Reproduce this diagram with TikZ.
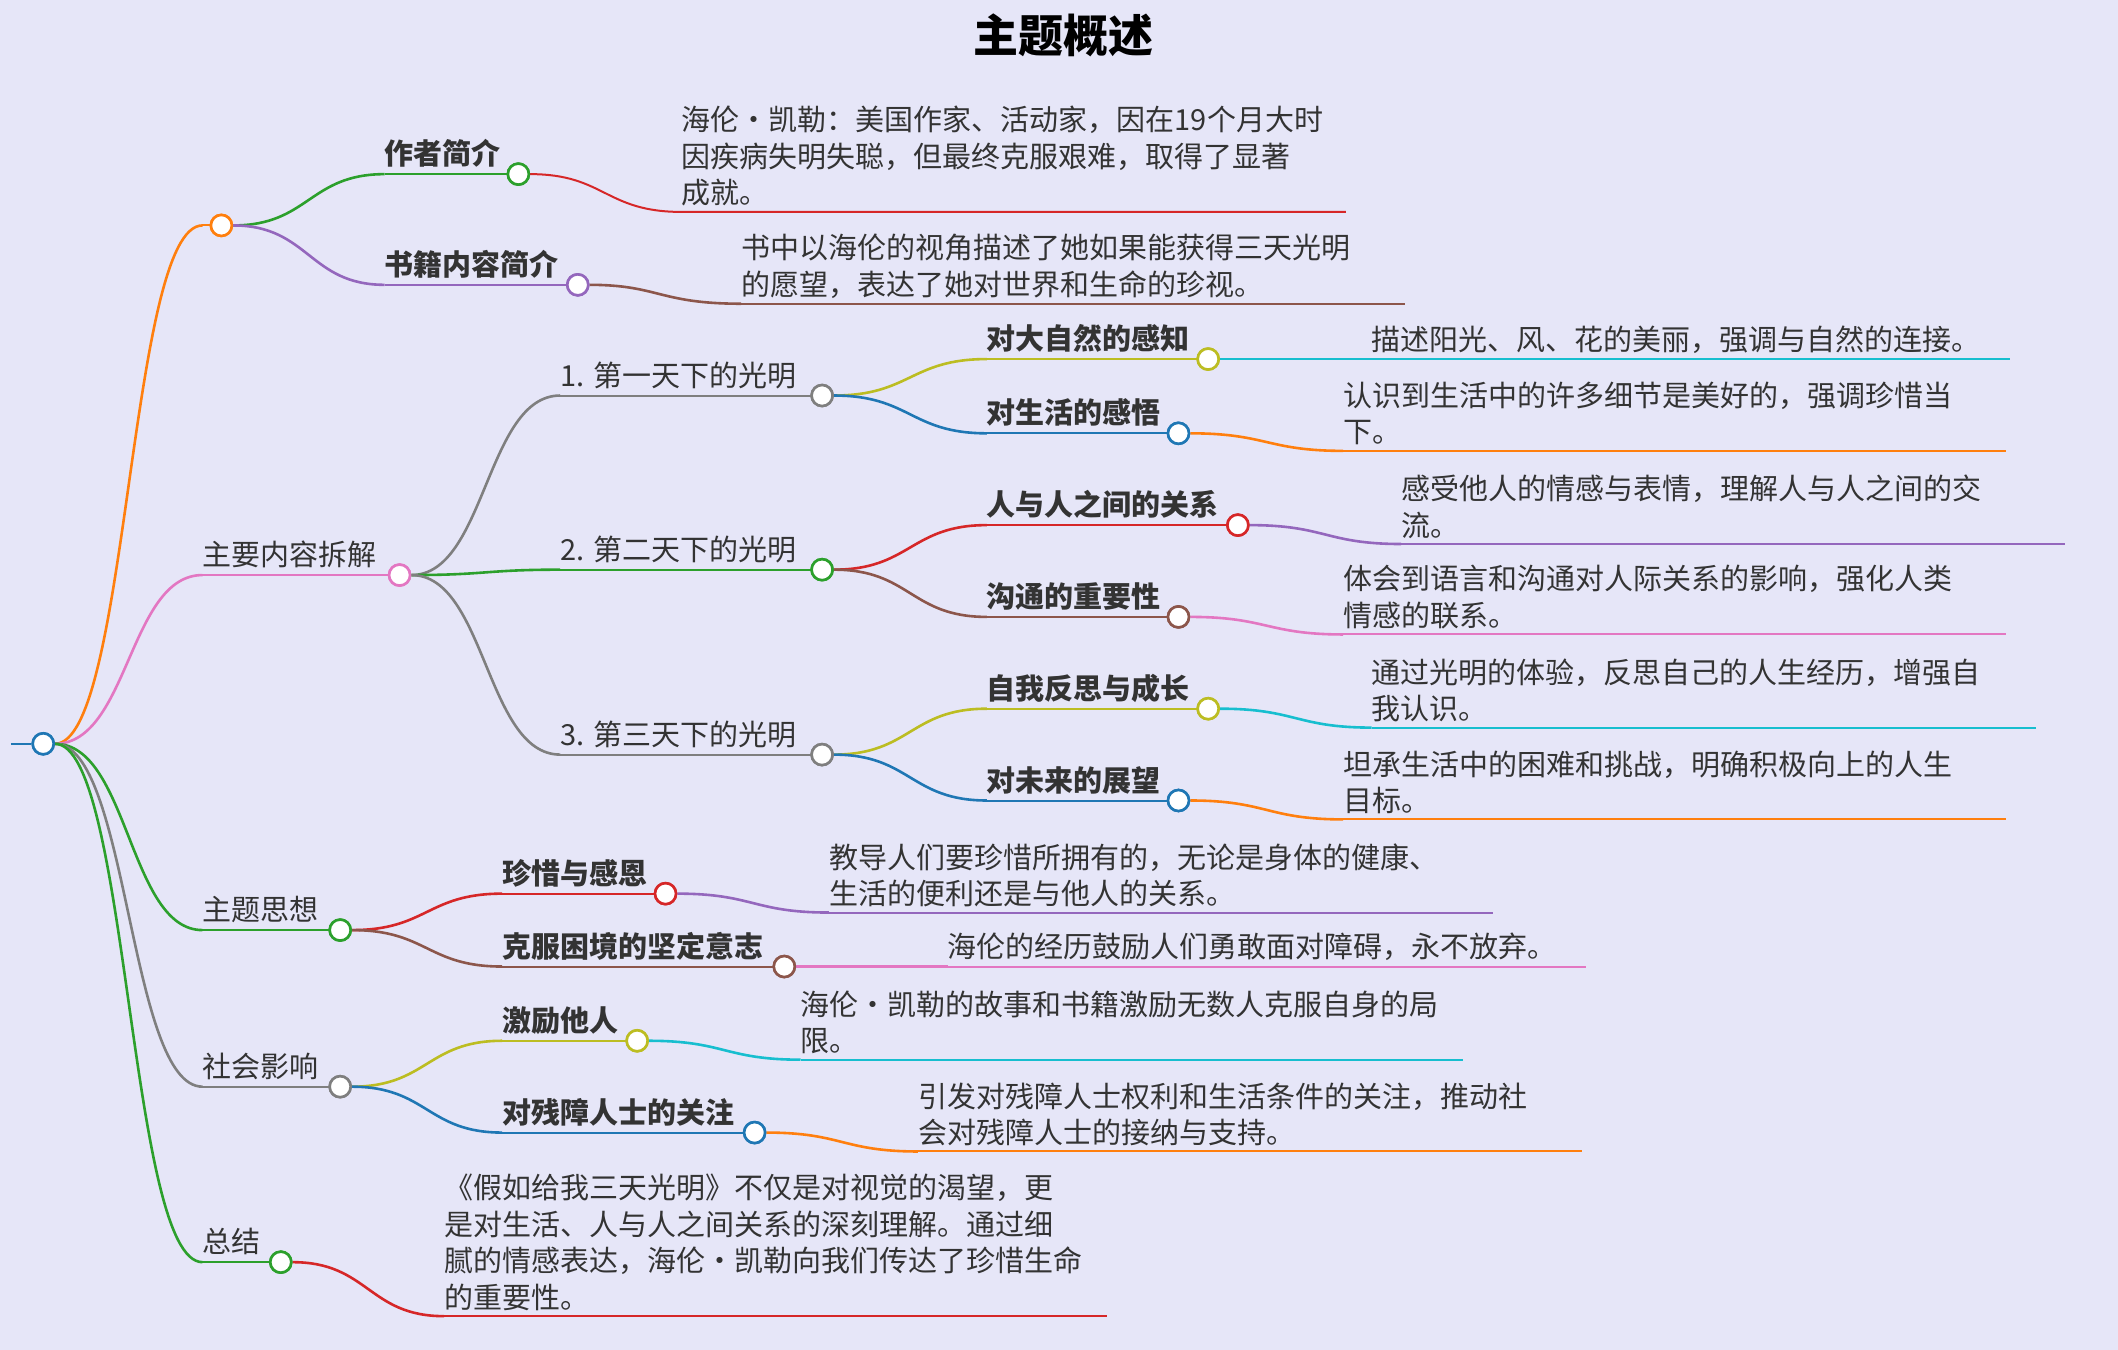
\documentclass[tikz,border=0pt]{standalone}
\usepackage{fontspec}
\setmainfont{Noto Sans CJK SC}
\usetikzlibrary{calc}
\definecolor{bg}{HTML}{E6E6F8}
\definecolor{cgreen}{HTML}{2CA02C}
\definecolor{corange}{HTML}{FF7F0E}
\definecolor{cpurple}{HTML}{9467BD}
\definecolor{cred}{HTML}{D62728}
\definecolor{cbrown}{HTML}{8C564B}
\definecolor{cpink}{HTML}{E377C2}
\definecolor{cgray}{HTML}{7F7F7F}
\definecolor{colive}{HTML}{BCBD22}
\definecolor{ccyan}{HTML}{17BECF}
\definecolor{cblue}{HTML}{1F77B4}
\definecolor{txt}{HTML}{333333}
\tikzset{
 lbl/.style={inner sep=0pt,text=txt,font=\fontsize{29}{36.5}\selectfont},
 leaftext/.style={lbl,align=left,anchor=south west},
 uline/.style={line width=2pt},
 edgeline/.style={line width=2.6pt},
 dot/.style={circle,fill=white,line width=2.6pt,minimum size=21pt,inner sep=0pt},
}
\newcommand\br[3]{\draw[edgeline,#1] let \p1=(#2), \p2=(#3) in (\p1) .. controls ({(\x1+\x2)/2},\y1) and ({(\x1+\x2)/2},\y2) .. (\p2);}
% name, color, x0, xc, y, text, parent
\newcommand\topic[7]{%
 \coordinate (#1-s) at (#3,#5);
 \br{#2}{#7.east}{#1-s}
 \node[lbl,anchor=base west] (#1-t) at (#3,#5-7) {#6};
 \draw[uline,#2] (#1-s) -- (#4,#5);
 \node[dot,draw=#2] (#1) at (#4,#5) {};
}
% name, color, x0, xend, y, text, parent
\newcommand\leaf[7]{%
 \coordinate (#1-s) at (#3,#5);
 \coordinate (#1-e) at (#4,#5);
 \br{#2}{#7.east}{#1-s}
 \draw[uline,#2] (#1-s) -- (#1-e);
 \node[leaftext] (#1-t) at (#3,#5-4) {#6};
 \node[dot,draw=#7col] at (#7) {};
}
\begin{document}
\begin{tikzpicture}[x=1.35pt,y=-1.35pt]
\fill[bg] (0,0) rectangle (1569,1000);
\useasboundingbox (0,0) rectangle (1569,1000);
\node[font=\fontsize{45}{50}\selectfont\bfseries,text=black] (title) at (788,26) {主题概述};
\coordinate (r0) at (8,551);
\node[dot,draw=cblue] (root) at (32,551) {};
\draw[uline,cblue] (r0) -- (root);
% level 1
\topic{A}{corange}{150}{164}{167}{}{root}
\topic{B}{cpink}{150}{296}{426}{主要内容拆解}{root}
\topic{C}{cgreen}{150}{252}{689}{主题思想}{root}
\topic{D}{cgray}{150}{252}{805}{社会影响}{root}
\topic{E}{cgreen}{150}{208}{935}{总结}{root}
\node[dot,draw=cblue] at (root) {};
% A
\topic{A1}{cgreen}{285}{384}{129}{\textbf{作者简介}}{A}
\topic{A2}{cpurple}{285}{428}{211}{\textbf{书籍内容简介}}{A}
\node[dot,draw=corange] at (A) {};
\draw[uline,cred] let \p1=(A1.east) in (A1.east) .. controls (448,129) and (448,157) .. (505,157) -- (997,157);
\coordinate (A1l) at (505,157);
\node[leaftext] (A1t) at (505,153) {海伦·凯勒：美国作家、活动家，因在19个月大时\\因疾病失明失聪，但最终克服艰难，取得了显著\\成就。};
\node[dot,draw=cgreen] at (A1) {};
\draw[edgeline,cbrown] (A2.east) .. controls (488,211) and (488,225) .. (549,225);
\draw[uline,cbrown] (549,225) -- (1041,225);
\node[leaftext] (A2t) at (549,221) {书中以海伦的视角描述了她如果能获得三天光明\\的愿望，表达了她对世界和生命的珍视。};
\node[dot,draw=cpurple] at (A2) {};
% B
\topic{B1}{cgray}{415}{609}{293}{1. 第一天下的光明}{B}
\topic{B2}{cgreen}{415}{609}{422}{2. 第二天下的光明}{B}
\topic{B3}{cgray}{415}{609}{559}{3. 第三天下的光明}{B}
\node[dot,draw=cpink] at (B) {};
\topic{B11}{colive}{731}{895}{266}{\textbf{对大自然的感知}}{B1}
\topic{B12}{cblue}{731}{873}{321}{\textbf{对生活的感悟}}{B1}
\node[dot,draw=cgray] at (B1) {};
\topic{B21}{cred}{731}{917}{389}{\textbf{人与人之间的关系}}{B2}
\topic{B22}{cbrown}{731}{873}{457}{\textbf{沟通的重要性}}{B2}
\node[dot,draw=cgreen] at (B2) {};
\topic{B31}{colive}{731}{895}{525}{\textbf{自我反思与成长}}{B3}
\topic{B32}{cblue}{731}{873}{593}{\textbf{对未来的展望}}{B3}
\node[dot,draw=cgray] at (B3) {};
% C, D
\topic{C1}{cred}{372}{493}{662}{\textbf{珍惜与感恩}}{C}
\topic{C2}{cbrown}{372}{581}{716}{\textbf{克服困境的坚定意志}}{C}
\node[dot,draw=cgreen] at (C) {};
\topic{D1}{colive}{372}{472}{771}{\textbf{激励他人}}{D}
\topic{D2}{cblue}{372}{559}{839}{\textbf{对残障人士的关注}}{D}
\node[dot,draw=cgray] at (D) {};
% leaves
\def\B11col{}
\newcommand\lf[7]{%
 \coordinate (#1-s) at (#3,#5);
 \coordinate (#1-e) at (#4,#5);
 \br{#2}{#7.east}{#1-s}
 \draw[uline,#2] (#1-s) -- (#1-e);
 \node[leaftext] (#1-t) at (#3,#5-4) {#6};
}
\lf{L11}{ccyan}{1016}{1489}{266}{描述阳光、风、花的美丽，强调与自然的连接。}{B11}
\node[dot,draw=colive] at (B11) {};
\lf{L12}{corange}{995}{1486}{334}{认识到生活中的许多细节是美好的，强调珍惜当\\下。}{B12}
\node[dot,draw=cblue] at (B12) {};
\lf{L21}{cpurple}{1038}{1530}{403}{感受他人的情感与表情，理解人与人之间的交\\流。}{B21}
\node[dot,draw=cred] at (B21) {};
\lf{L22}{cpink}{995}{1486}{470}{体会到语言和沟通对人际关系的影响，强化人类\\情感的联系。}{B22}
\node[dot,draw=cbrown] at (B22) {};
\lf{L31}{ccyan}{1016}{1508}{539}{通过光明的体验，反思自己的人生经历，增强自\\我认识。}{B31}
\node[dot,draw=colive] at (B31) {};
\lf{L32}{corange}{995}{1486}{607}{坦承生活中的困难和挑战，明确积极向上的人生\\目标。}{B32}
\node[dot,draw=cblue] at (B32) {};
\lf{LC1}{cpurple}{614}{1106}{676}{教导人们要珍惜所拥有的，无论是身体的健康、\\生活的便利还是与他人的关系。}{C1}
\node[dot,draw=cred] at (C1) {};
\lf{LC2}{cpink}{702}{1175}{716}{海伦的经历鼓励人们勇敢面对障碍，永不放弃。}{C2}
\node[dot,draw=cbrown] at (C2) {};
\lf{LD1}{ccyan}{593}{1084}{785}{海伦·凯勒的故事和书籍激励无数人克服自身的局\\限。}{D1}
\node[dot,draw=colive] at (D1) {};
\lf{LD2}{corange}{680}{1172}{853}{引发对残障人士权利和生活条件的关注，推动社\\会对残障人士的接纳与支持。}{D2}
\node[dot,draw=cblue] at (D2) {};
\lf{LE}{cred}{329}{820}{975}{《假如给我三天光明》不仅是对视觉的渴望，更\\是对生活、人与人之间关系的深刻理解。通过细\\腻的情感表达，海伦·凯勒向我们传达了珍惜生命\\的重要性。}{E}
\node[dot,draw=cgreen] at (E) {};
\end{tikzpicture}
\end{document}
